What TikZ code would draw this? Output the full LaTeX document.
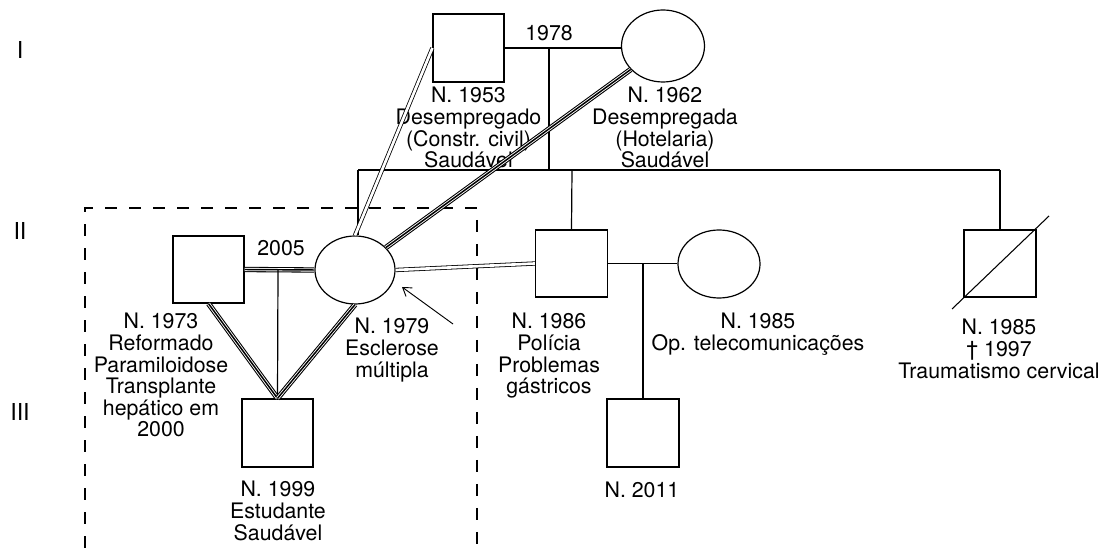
\documentclass[tikz,border=0pt]{standalone}
\usepackage{fontspec}
\setmainfont{TeX Gyre Heros}
\usetikzlibrary{shapes.geometric,arrows.meta}
\tikzset{
  sq/.style={draw,line width=0.9pt,minimum width=53.25pt,minimum height=51pt,inner sep=0pt},
  el/.style={draw,ellipse,line width=0.9pt,inner sep=0pt},
  lbl/.style={align=center,anchor=north,inner sep=0pt,font=\fontsize{16}{16.2}\selectfont},
  yr/.style={inner sep=0pt,font=\fontsize{16}{16.2}\selectfont},
  gen/.style={inner sep=0pt,font=\fontsize{17.5}{20}\selectfont},
  thinline/.style={line width=0.9pt},
  dbl/.style={double,double distance=2pt,line width=0.6pt},
  triple/.style={line width=1.1pt,preaction={draw,line width=4pt,black},preaction={draw,line width=2.4pt,white}},
  box/.style={dashed,dash pattern=on 9pt off 9pt,line width=1.4pt}
}
\begin{document}
\begin{tikzpicture}[x=0.75pt,y=-0.75pt]
\useasboundingbox (0,0) rectangle (1103,548);
% generation numerals
\node[gen] (gI) at (20,50) {I};
\node[gen] (gII) at (20,231) {II};
\node[gen] (gIII) at (20,412) {III};
% dashed box
\coordinate (b1) at (85,548);
\coordinate (b2) at (85,208);
\coordinate (b3) at (477,208);
\coordinate (b4) at (477,548);
\draw[box] (b1) -- (b2) -- (b3) -- (b4);
% generation I
\node[sq] (f1) at (468.5,48) {};
\node[el,minimum width=62.25pt,minimum height=54pt] (m1) at (663,46) {};
\draw[thinline] (f1.east) -- (m1.west |- f1.east);
\node[yr] (y1978) at (549,33) {1978};
\node[lbl] (lf1) at (468.5,87) {N. 1953\\Desempregado\\(Constr. civil)\\Saudável};
\node[lbl] (lm1) at (665,87) {N. 1962\\Desempregada\\(Hotelaria)\\Saudável};
\coordinate (c1) at (549,48);
\coordinate (c2) at (549,170);
\draw[thinline] (c1) -- (c2);
\coordinate (s1) at (358,170);
\coordinate (s2) at (1000,170);
\draw[thinline] (s1) -- (s2);
% generation II
\node[sq,minimum height=50.25pt] (S) at (208.5,269.5) {};
\node[el,minimum width=60pt,minimum height=51pt] (P) at (355,270) {};
\node[sq,minimum width=54pt,minimum height=50.25pt] (B) at (571.5,263.5) {};
\node[el,minimum width=61.5pt,minimum height=51pt] (W) at (719,264) {};
\node[sq,minimum width=54pt,minimum height=50.25pt] (D) at (1000,263.5) {};
\coordinate (dd1) at (952,309);
\coordinate (dd2) at (1049,216);
\draw[line width=0.8pt] (dd1) -- (dd2);
\coordinate (s3) at (572,170);
\draw[thinline] (s1) -- (s1 |- P.north);
\draw[thinline] (s3) -- (B.north);
\draw[thinline] (s2) -- (D.north);
% relationships
\draw[dbl] (f1.west) -- (P.north);
\draw[triple] (m1) -- (P);
\draw[dbl] (P.east) -- (B.west);
\draw[triple] (S.east) -- (P.west);
\node[yr] (y2005) at (281,248) {2005};
\draw[thinline] (B.east) -- (W.west |- B.east);
% generation III
\node[sq] (K) at (277.5,433) {};
\node[sq,minimum width=54pt] (G) at (643,433) {};
\coordinate (k1) at (278,270);
\draw[thinline] (k1) -- (K.north);
\draw[triple] (S.south) -- (K.north);
\draw[triple] (P.south) -- (K.north);
\coordinate (g1) at (643,264);
\draw[thinline] (g1) -- (G.north);
% arrow
\coordinate (a1) at (453,324);
\coordinate (a2) at (402,287);
\draw[line width=0.7pt,-{Straight Barb[length=6pt,width=8pt]}] (a1) -- (a2);
% labels
\node[lbl] (lS) at (161,313) {N. 1973\\Reformado\\Paramiloidose\\Transplante\\hepático em\\2000};
\node[lbl] (lP) at (392,318) {N. 1979\\Esclerose\\múltipla};
\node[lbl] (lB) at (549,313) {N. 1986\\Polícia\\Problemas\\gástricos};
\node[lbl] (lW) at (758,313) {N. 1985\\Op. telecomunicações};
\node[lbl] (lD) at (999,319) {N. 1985\\† 1997\\Traumatismo cervical};
\node[lbl] (lK) at (278,481) {N. 1999\\Estudante\\Saudável};
\node[lbl] (lG) at (642,482) {N. 2011};
\end{tikzpicture}
\end{document}
